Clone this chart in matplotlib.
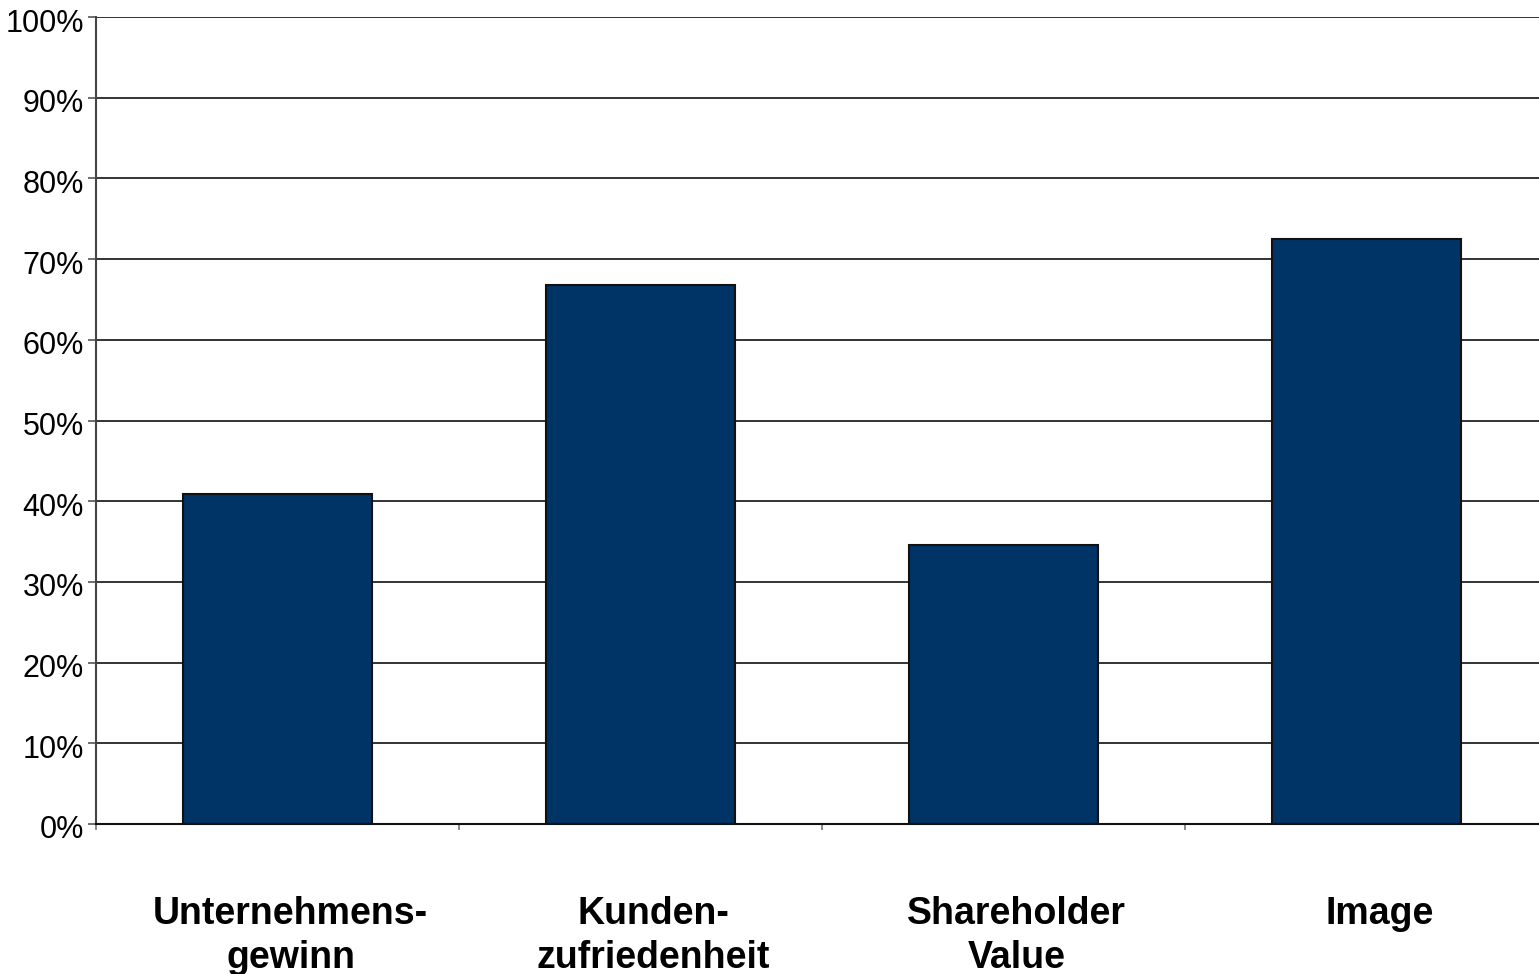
import matplotlib.pyplot as plt
from matplotlib.ticker import FixedLocator, PercentFormatter
import matplotlib.transforms as mtransforms

plt.rcParams['font.family'] = ['Liberation Sans', 'DejaVu Sans']

# Werte
kategorien = ['Unternehmens-\ngewinn', 'Kunden-\nzufriedenheit', 'Shareholder\nValue', 'Image']
anteile = [40.9, 66.8, 34.6, 72.5]
y_ticks = list(range(0, 101, 10))

W, H = 1539, 974
fig = plt.figure(figsize=(W / 100, H / 100), dpi=100)
ax = fig.add_axes([96 / W, (H - 824) / H, 4 * 363 / W, (824 - 17) / H])

pos = list(range(len(kategorien)))
ax.bar(pos, anteile, width=0.52, color='#003366', edgecolor='#111111', linewidth=1.5, zorder=3)

ax.set_xlim(-0.5, len(kategorien) - 0.5)
ax.set_ylim(0, 100)

# Gitterlinien
ax.set_yticks(y_ticks)
ax.yaxis.set_major_formatter(PercentFormatter(decimals=0))
ax.grid(axis='y', color='#111111', linewidth=1.2, zorder=0)
ax.tick_params(axis='y', length=5.8, width=1.2, color='#555555', labelsize=22, pad=3)
for lbl in ax.get_yticklabels():
    lbl.set_transform(lbl.get_transform() + mtransforms.ScaledTranslation(0, -3 / 100, fig.dpi_scale_trans))

# Kategorien
ax.set_xticks(pos)
ax.set_xticklabels(kategorien, fontsize=27, fontweight='bold', linespacing=1.28)
ax.tick_params(axis='x', which='major', length=0, pad=52)
verschiebung = mtransforms.ScaledTranslation(13 / 100, 0, fig.dpi_scale_trans)
for lbl in ax.get_xticklabels():
    lbl.set_transform(lbl.get_transform() + verschiebung)
ax.xaxis.set_minor_locator(FixedLocator([p - 0.5 for p in pos] + [len(pos) - 0.5]))
ax.tick_params(axis='x', which='minor', length=4.3, width=1.2, color='#777777', direction='out')

for s in ['top', 'right']:
    ax.spines[s].set_visible(False)
ax.spines['left'].set_color('#444444')
ax.spines['left'].set_linewidth(1.5)
ax.spines['bottom'].set_color('#111111')
ax.spines['bottom'].set_linewidth(1.5)
ax.spines['bottom'].set_zorder(4)

fig.savefig('out.png', dpi=100)
